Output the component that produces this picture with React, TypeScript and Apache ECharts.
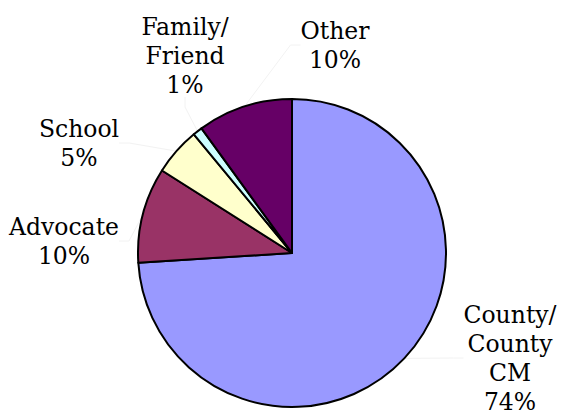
import React, { useEffect, useRef } from "react";
import * as echarts from "echarts";

const categories = ["County/\nCounty\nCM", "Advocate", "School", "Family/\nFriend", "Other"];
const values = [74, 10, 5, 1, 10];
const colors = ["#9999FF", "#993366", "#FFFFCC", "#CCFFFF", "#660066"];
// label block centres (layout only)
const labelSpots: [number, number][] = [
  [510, 358],
  [64, 241],
  [79, 143],
  [185, 56],
  [335, 45],
];

const FONT = "DejaVu Serif";

export default function App() {
  const ref = useRef<HTMLDivElement>(null);
  useEffect(() => {
    const chart = echarts.init(ref.current!, undefined, { renderer: "svg" });
    chart.setOption({
      animation: false,
      backgroundColor: "#ffffff",
      textStyle: { fontFamily: FONT },
      series: [
        {
          type: "pie",
          center: [292, 253],
          radius: [0, 154],
          startAngle: 90,
          clockwise: true,
          avoidLabelOverlap: false,
          data: categories.map((name, i) => ({
            name,
            value: values[i],
            itemStyle: { color: colors[i] },
          })),
          itemStyle: { borderColor: "#000000", borderWidth: 2 },
          label: {
            show: true,
            position: "outside",
            formatter: (p: any) =>
              (p.name + "\n" + p.value + "%")
                .split("\n")
                .map((s: string) => "{s|" + s + "}")
                .join("\n"),
            rich: {
              s: {
                fontFamily: FONT,
                fontSize: 23.5,
                lineHeight: 29,
                color: "#000000",
                align: "center",
              },
            },
            fontFamily: FONT,
            fontSize: 23.5,
            color: "#000000",
            align: "center",
          },
          labelLine: {
            show: true,
            length: 10,
            length2: 10,
            lineStyle: { color: "#f2f2f2", width: 1 },
          },
          labelLayout: (params: any) => {
            const p = labelSpots[params.dataIndex];
            return { x: p[0], y: p[1], align: "center", verticalAlign: "middle" };
          },
        },
      ],
    });
    return () => chart.dispose();
  }, []);
  return (
    <div
      ref={ref}
      style={{ position: "fixed", left: 0, top: 0, width: 563, height: 417 }}
    />
  );
}
